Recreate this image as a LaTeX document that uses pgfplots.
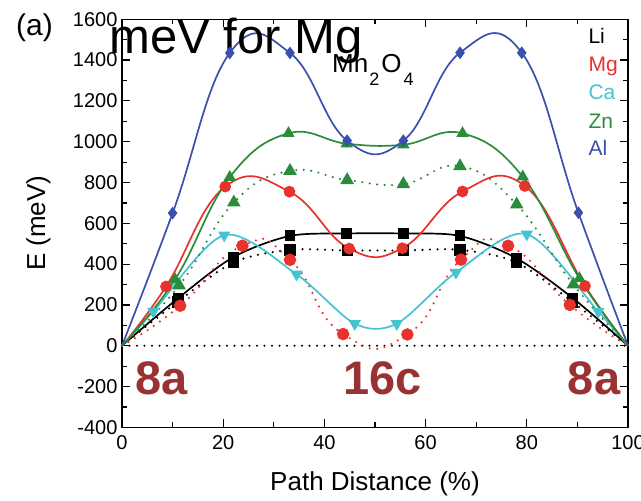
\documentclass[border=0pt]{standalone}
\usepackage{fontspec}
\setmainfont{Liberation Sans}
\usepackage{pgfplots}
\pgfplotsset{compat=1.18}
\definecolor{liC}{HTML}{000000}
\definecolor{mgC}{HTML}{E8322C}
\definecolor{caC}{HTML}{45C3D0}
\definecolor{znC}{HTML}{2B8C3C}
\definecolor{alC}{HTML}{3B50AC}
\definecolor{siteC}{HTML}{993333}

\pgfplotsset{
  solidline/.style={smooth, line width=1.7pt, mark indices={2,3,4,5,6,7,8,9}},
  dotline/.style={smooth, line width=2.4pt, line cap=round, dash pattern=on 0pt off 7.5pt,
    mark indices={2,3,4,5,6,7,8,9}, mark options={solid}},
}

\begin{document}
\begin{tikzpicture}
\begin{axis}[
    name=ax,
    scale only axis,
    width=506pt, height=408pt,
    xmin=0, xmax=100, ymin=-400, ymax=1600,
    xtick={0,20,...,100}, minor x tick num=1,
    ytick={-400,-200,...,1600}, minor y tick num=1,
    tick align=inside,
    major tick length=8pt, minor tick length=5pt,
    axis line style={line width=1.3pt},
    every tick/.style={black, line width=1.2pt},
    tick label style={font=\fontsize{20}{22}\selectfont},
    xticklabel style={yshift=-5pt},
    yticklabel style={xshift=-1pt},
    /pgf/number format/assume math mode=true,
    /pgf/number format/1000 sep={},
    xlabel={Path Distance (\%)},
    ylabel={E (meV)},
    label style={font=\fontsize{26}{28}\selectfont},
    xlabel style={at={(axis description cs:0.5,-0.138)}, anchor=center},
    ylabel style={at={(axis description cs:-0.165,0.5)}, anchor=center},
    clip=false,
]
% zero line
\addplot[black, line width=2.2pt, line cap=round, dash pattern=on 0pt off 7.5pt] coordinates {(0,0) (100,0)};

% Li
\addplot[liC, solidline, mark=square*, mark size=4.6pt] coordinates {
(0,0) (11.1,233) (22,434) (33.2,538) (44.4,550) (55.6,550) (66.8,538) (78,428) (89.1,233) (100,0)};
\addplot[liC, dotline, mark=square*, mark size=4.6pt] coordinates {
(0,0) (11,215) (22,408) (33.2,470) (44.6,467) (55.6,467) (66.8,470) (78,408) (89,215) (100,0)};

% Mg
\addplot[mgC, solidline, tension=0.75, mark=*, mark size=5pt] coordinates {
(0,0) (8.7,290) (20.4,780) (33.1,755) (44.9,476) (55.4,478) (67.3,756) (79.6,783) (91.5,293) (100,0)};
\addplot[mgC, dotline, tension=0.95, mark=*, mark size=5pt] coordinates {
(0,0) (11.5,196) (23.8,490) (33.2,421) (43.7,57) (56.4,55) (67,422) (76.3,490) (88.5,200) (100,0)};

% Ca
\addplot[caC, solidline, mark=triangle*, mark size=5.5pt, mark options={rotate=180}] coordinates {
(0,0) (6.2,168) (20.2,542) (34.5,350) (46,108) (54.3,108) (66,359) (80,547) (94.1,168) (100,0)};

% Zn
\addplot[znC, solidline, tension=0.7, mark=triangle*, mark size=5.5pt] coordinates {
(0,0) (10.5,325) (21.3,826) (32.9,1041) (44.4,990) (55.6,985) (67.3,1041) (79.2,828) (90.4,330) (100,0)};
\addplot[znC, dotline, tension=0.75, mark=triangle*, mark size=5.5pt] coordinates {
(0,0) (11.3,295) (22.1,702) (33.2,857) (44.5,812) (55.6,792) (66.8,880) (78,692) (89.2,300) (100,0)};

% Al
\addplot[alC, solidline, tension=0.75, mark=diamond*, mark size=5pt] coordinates {
(0,0) (10,650) (21.3,1435) (33.2,1435) (44.5,1005) (55.6,1005) (66.8,1436) (79,1436) (90.2,652) (100,0)};

% legend (text only)
\node[anchor=base west, text=liC, font=\fontsize{21}{24}\selectfont] at (axis cs:91.5,1482) {Li};
\node[anchor=base west, text=mgC, font=\fontsize{21}{24}\selectfont] at (axis cs:91.5,1343) {Mg};
\node[anchor=base west, text=caC, font=\fontsize{21}{24}\selectfont] at (axis cs:91.5,1208) {Ca};
\node[anchor=base west, text=znC, font=\fontsize{21}{24}\selectfont] at (axis cs:91.5,1066) {Zn};
\node[anchor=base west, text=alC, font=\fontsize{21}{24}\selectfont] at (axis cs:91.5,932) {Al};

% site labels
\node[anchor=base west, inner sep=0pt, text=siteC, font=\fontsize{47}{50}\selectfont\bfseries] at (axis cs:2.6,-240) {8a};
\node[anchor=base west, inner sep=0pt, text=siteC, font=\fontsize{47}{50}\selectfont\bfseries] at (axis cs:43.7,-240) {16c};
\node[anchor=base west, inner sep=0pt, text=siteC, font=\fontsize{47}{50}\selectfont\bfseries] at (axis cs:88.1,-240) {8a};

% annotations
\node[anchor=base west, inner sep=0pt, font=\fontsize{26}{28}\selectfont] at (axis cs:41.5,1337)
  {Mn\kern1pt\raisebox{-13pt}{\fontsize{18}{18}\selectfont 2}\kern2pt O\kern2pt\raisebox{-13pt}{\fontsize{18}{18}\selectfont 4}};
\node[anchor=base west, inner sep=0pt, font=\fontsize{49}{52}\selectfont] at (axis cs:-2.5,1430) {meV for Mg};
\end{axis}
\node[anchor=center, font=\fontsize{30}{32}\selectfont] at ([xshift=-87.5pt,yshift=-8pt]ax.north west) {(a)};
\pgfresetboundingbox
\path[use as bounding box] ([xshift=-122pt,yshift=-73.3pt]ax.south west) rectangle ([xshift=13pt,yshift=19.3pt]ax.north east);
\end{tikzpicture}
\end{document}
